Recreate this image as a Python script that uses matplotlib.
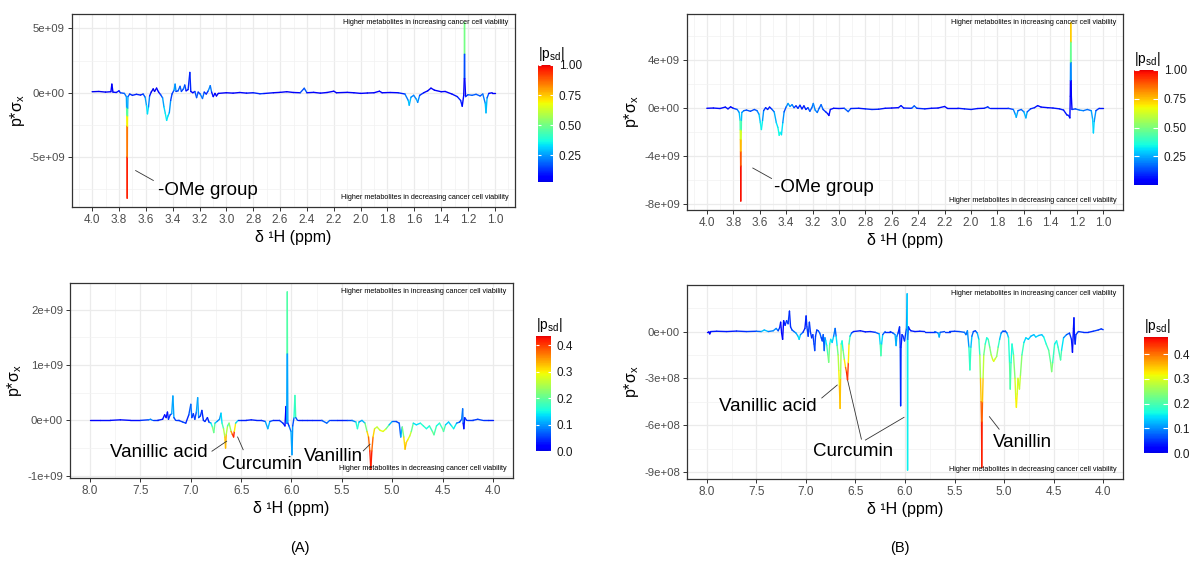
import numpy as np
import matplotlib
matplotlib.use("Agg")
import matplotlib.pyplot as plt
from matplotlib.collections import LineCollection
from matplotlib.colors import Normalize, ListedColormap
from matplotlib.ticker import MultipleLocator, FuncFormatter

plt.rcParams["font.family"] = ["Liberation Sans", "DejaVu Sans"]
plt.rcParams["mathtext.default"] = "regular"

# ---- (A) top: 1.0-4.0 ppm, values in 1e9 ----
tl_ppm = [4.00, 3.95, 3.90, 3.86, 3.853, 3.845, 3.82, 3.80, 3.79, 3.76,
          3.745, 3.743, 3.742, 3.741, 3.740, 3.739, 3.738, 3.737, 3.736, 3.735,
          3.733, 3.72, 3.70, 3.67, 3.64, 3.62, 3.605, 3.595, 3.588, 3.580,
          3.572, 3.56, 3.545, 3.535, 3.52, 3.505, 3.49, 3.475, 3.465, 3.455,
          3.445, 3.435, 3.425, 3.415, 3.405, 3.39, 3.382, 3.375, 3.36, 3.345,
          3.335, 3.32, 3.31, 3.30, 3.285, 3.272, 3.265, 3.25, 3.235, 3.222,
          3.21, 3.195, 3.178, 3.165, 3.15, 3.135, 3.12, 3.11, 3.098, 3.085,
          3.074, 3.06, 3.00, 2.95, 2.90, 2.85, 2.80, 2.75, 2.72, 2.65,
          2.60, 2.55, 2.50, 2.45, 2.42, 2.40, 2.35, 2.30, 2.25, 2.20,
          2.18, 2.10, 2.05, 2.00, 1.95, 1.90, 1.86, 1.84, 1.78, 1.72,
          1.67, 1.645, 1.638, 1.625, 1.605, 1.585, 1.575, 1.56, 1.53, 1.50,
          1.476, 1.45, 1.40, 1.37, 1.32, 1.28, 1.255, 1.243, 1.232, 1.228,
          1.227, 1.226, 1.225, 1.224, 1.218, 1.20, 1.17, 1.14, 1.11, 1.09,
          1.072, 1.066, 1.058, 1.045, 1.02, 1.00]
tl_val = [0.08, 0.10, 0.05, 0.08, 0.67, 0.05, 0.02, 0.15, 0.00, -0.05,
          -0.30, -1.20, -1.80, -2.60, -5.00, -8.20, -5.00, -2.60, -1.80, -1.20,
          -0.30, -0.10, -0.20, -0.12, -0.18, -0.10, -0.35, -1.00, -1.64, -1.10,
          -0.25, 0.05, 0.30, 0.10, 0.36, 0.05, -0.15, -0.40, -1.10, -1.60,
          -2.15, -1.80, -1.55, -0.60, -0.10, 0.20, 0.67, 0.10, 0.15, 0.50,
          0.10, 0.30, 0.60, 0.15, 0.25, 1.58, 0.10, 0.00, 0.10, -0.38,
          0.05, -0.10, -0.45, 0.05, -0.10, 0.15, 0.55, 0.05, -0.30, -0.05,
          -0.25, -0.05, 0.00, -0.03, 0.02, -0.03, 0.00, -0.08, -0.06, 0.00,
          0.03, 0.08, 0.02, 0.00, 0.35, 0.00, 0.03, -0.03, 0.02, 0.12,
          0.00, 0.03, 0.00, -0.05, -0.02, 0.00, 0.12, 0.00, 0.02, 0.00,
          -0.10, -0.60, -0.97, -0.35, -0.20, -0.50, -0.75, -0.20, 0.00, 0.15,
          0.36, 0.20, 0.08, 0.10, -0.10, -0.30, -0.60, -1.05, -0.20, 1.10,
          3.00, 5.44, 3.00, 1.10, -0.30, -0.15, -0.20, -0.12, -0.25, -0.10,
          -0.80, -1.56, -0.40, -0.05, 0.00, 0.00]
tl_psd = [0.05, 0.04, 0.05, 0.05, 0.05, 0.06, 0.10, 0.08, 0.12, 0.20,
          0.22, 0.32, 0.60, 0.78, 0.92, 1.00, 0.92, 0.78, 0.60, 0.32,
          0.22, 0.15, 0.10, 0.12, 0.10, 0.12, 0.22, 0.30, 0.36, 0.30,
          0.15, 0.05, 0.03, 0.05, 0.04, 0.08, 0.12, 0.22, 0.30, 0.34,
          0.36, 0.32, 0.30, 0.20, 0.10, 0.20, 0.32, 0.15, 0.12, 0.25,
          0.12, 0.18, 0.22, 0.08, 0.06, 0.18, 0.05, 0.06, 0.08, 0.25,
          0.10, 0.15, 0.28, 0.12, 0.10, 0.15, 0.30, 0.12, 0.08, 0.06,
          0.04, 0.05, 0.06, 0.08, 0.06, 0.10, 0.08, 0.15, 0.12, 0.06,
          0.05, 0.05, 0.06, 0.08, 0.25, 0.10, 0.06, 0.08, 0.06, 0.05,
          0.06, 0.05, 0.07, 0.08, 0.06, 0.05, 0.07, 0.06, 0.08, 0.07,
          0.15, 0.28, 0.32, 0.25, 0.20, 0.26, 0.30, 0.15, 0.10, 0.06,
          0.05, 0.06, 0.05, 0.06, 0.08, 0.10, 0.12, 0.10, 0.06, 0.03,
          0.30, 0.70, 0.30, 0.03, 0.10, 0.15, 0.22, 0.15, 0.20, 0.15,
          0.28, 0.32, 0.25, 0.10, 0.06, 0.05]

# ---- (B) top: 1.0-4.0 ppm, values in 1e9 ----
tr_ppm = [4.00, 3.95, 3.90, 3.86, 3.84, 3.82, 3.80, 3.77, 3.755, 3.748,
          3.747, 3.746, 3.745, 3.744, 3.743, 3.742, 3.741, 3.740, 3.739, 3.738,
          3.735, 3.72, 3.70, 3.67, 3.64, 3.62, 3.605, 3.595, 3.587, 3.578,
          3.57, 3.555, 3.54, 3.525, 3.51, 3.49, 3.474, 3.462, 3.452, 3.445,
          3.435, 3.425, 3.415, 3.40, 3.385, 3.37, 3.355, 3.34, 3.325, 3.31,
          3.295, 3.28, 3.265, 3.25, 3.235, 3.22, 3.205, 3.194, 3.18, 3.164,
          3.15, 3.135, 3.12, 3.10, 3.085, 3.076, 3.065, 3.04, 3.00, 2.96,
          2.93, 2.91, 2.85, 2.80, 2.75, 2.70, 2.65, 2.60, 2.55, 2.53,
          2.51, 2.45, 2.43, 2.41, 2.35, 2.30, 2.25, 2.20, 2.18, 2.10,
          2.05, 2.00, 1.95, 1.90, 1.874, 1.86, 1.80, 1.72, 1.68, 1.665,
          1.658, 1.645, 1.62, 1.60, 1.585, 1.575, 1.55, 1.52, 1.496, 1.47,
          1.42, 1.38, 1.33, 1.30, 1.275, 1.262, 1.252, 1.249, 1.248, 1.247,
          1.246, 1.245, 1.244, 1.243, 1.242, 1.241, 1.236, 1.21, 1.18, 1.15,
          1.12, 1.09, 1.08, 1.074, 1.068, 1.055, 1.03, 1.00]
tr_val = [0.00, 0.02, -0.02, 0.10, -0.05, 0.12, 0.00, -0.10, -0.35, -1.00,
          -1.80, -2.60, -3.60, -4.80, -7.72, -4.80, -3.60, -2.60, -1.80, -1.00,
          -0.35, -0.20, -0.15, -0.25, -0.10, -0.20, -0.50, -1.20, -1.77, -1.00,
          -0.20, 0.05, -0.10, 0.10, -0.05, -0.30, -1.20, -1.60, -2.25, -2.00,
          -2.20, -1.20, -0.30, 0.10, 0.40, 0.15, 0.30, 0.05, 0.20, 0.00,
          0.25, -0.05, 0.20, -0.10, 0.05, -0.25, 0.05, 0.40, -0.15, -0.35,
          0.00, 0.30, -0.10, -0.30, -0.45, -0.60, -0.10, 0.00, -0.02, 0.00,
          -0.28, -0.02, 0.00, -0.05, -0.10, -0.08, 0.00, 0.02, 0.05, 0.22,
          0.02, 0.00, 0.20, 0.00, -0.05, 0.00, 0.02, 0.15, 0.00, 0.00,
          -0.05, -0.10, -0.02, 0.00, 0.12, 0.00, 0.00, 0.00, -0.10, -0.50,
          -0.75, -0.20, -0.10, -0.30, -0.80, -0.30, -0.05, 0.05, 0.22, 0.10,
          0.05, 0.02, -0.05, -0.15, -0.55, -0.60, -0.80, 1.00, 2.30, 3.80,
          5.50, 7.10, 5.50, 3.80, 2.30, 1.00, -0.10, -0.05, -0.15, -0.20,
          -0.10, -0.20, -0.90, -2.05, -1.10, -0.20, 0.00, 0.00]
tr_psd = [0.04, 0.05, 0.06, 0.05, 0.08, 0.04, 0.06, 0.15, 0.25, 0.30,
          0.55, 0.70, 0.82, 0.95, 1.00, 0.95, 0.82, 0.70, 0.55, 0.30,
          0.25, 0.18, 0.12, 0.15, 0.12, 0.15, 0.25, 0.32, 0.36, 0.30,
          0.15, 0.08, 0.10, 0.05, 0.10, 0.20, 0.30, 0.32, 0.36, 0.34,
          0.35, 0.28, 0.15, 0.12, 0.28, 0.20, 0.25, 0.12, 0.10, 0.08,
          0.12, 0.06, 0.08, 0.10, 0.08, 0.20, 0.12, 0.25, 0.15, 0.25,
          0.10, 0.22, 0.12, 0.10, 0.06, 0.05, 0.06, 0.05, 0.06, 0.08,
          0.22, 0.10, 0.06, 0.08, 0.10, 0.08, 0.06, 0.05, 0.05, 0.08,
          0.06, 0.08, 0.22, 0.10, 0.08, 0.06, 0.05, 0.06, 0.05, 0.06,
          0.08, 0.08, 0.06, 0.05, 0.15, 0.08, 0.06, 0.08, 0.15, 0.26,
          0.30, 0.18, 0.12, 0.22, 0.30, 0.20, 0.10, 0.08, 0.05, 0.06,
          0.05, 0.06, 0.08, 0.08, 0.06, 0.08, 0.10, 0.00, 0.10, 0.32,
          0.62, 0.85, 0.62, 0.32, 0.10, 0.00, 0.10, 0.12, 0.20, 0.22,
          0.15, 0.20, 0.28, 0.32, 0.28, 0.15, 0.08, 0.06]

# ---- (A) bottom: 4.0-8.0 ppm, values in 1e9 ----
bl_ppm = [8.00, 7.90, 7.80, 7.70, 7.60, 7.50, 7.42, 7.40, 7.38, 7.33,
          7.28, 7.26, 7.245, 7.232, 7.222, 7.205, 7.19, 7.178, 7.168, 7.15,
          7.12, 7.08, 7.05, 7.02, 7.00, 6.99, 6.975, 6.96, 6.945, 6.932,
          6.922, 6.905, 6.89, 6.875, 6.86, 6.835, 6.82, 6.80, 6.785, 6.772,
          6.76, 6.74, 6.715, 6.70, 6.69, 6.675, 6.662, 6.655, 6.648, 6.635,
          6.62, 6.60, 6.588, 6.575, 6.568, 6.555, 6.53, 6.50, 6.45, 6.40,
          6.35, 6.30, 6.26, 6.235, 6.215, 6.18, 6.12, 6.085, 6.065, 6.055,
          6.048, 6.044, 6.042, 6.040, 6.036, 6.025, 6.005, 5.995, 5.988, 5.975,
          5.966, 5.958, 5.94, 5.90, 5.85, 5.80, 5.70, 5.65, 5.62, 5.55,
          5.50, 5.45, 5.40, 5.36, 5.345, 5.33, 5.30, 5.27, 5.25, 5.235,
          5.222, 5.212, 5.202, 5.19, 5.175, 5.15, 5.12, 5.09, 5.06, 5.03,
          5.00, 4.96, 4.93, 4.915, 4.90, 4.885, 4.872, 4.86, 4.845, 4.825,
          4.81, 4.79, 4.76, 4.72, 4.69, 4.66, 4.63, 4.60, 4.585, 4.56,
          4.53, 4.50, 4.49, 4.47, 4.44, 4.41, 4.39, 4.36, 4.33, 4.31,
          4.30, 4.295, 4.288, 4.28, 4.26, 4.20, 4.15, 4.10, 4.05, 4.00]
bl_val = [0.00, 0.00, 0.00, 0.01, 0.00, 0.00, 0.01, 0.02, 0.00, 0.00,
          0.02, 0.10, 0.05, 0.15, 0.02, 0.10, 0.12, 0.44, 0.05, 0.00,
          0.00, -0.03, -0.05, 0.10, 0.29, 0.05, 0.12, 0.02, 0.15, 0.41,
          0.05, 0.08, 0.18, 0.00, -0.02, 0.05, -0.03, -0.05, -0.12, -0.22,
          -0.05, -0.02, 0.02, 0.13, -0.05, -0.15, -0.30, -0.50, -0.25, -0.10,
          -0.05, -0.20, -0.25, -0.30, -0.20, -0.05, 0.00, 0.00, 0.00, 0.01,
          0.00, 0.00, -0.02, -0.15, -0.02, 0.00, 0.00, -0.05, -0.10, 0.25,
          -0.05, 1.20, 2.32, 1.20, -0.05, -0.10, -0.20, -0.62, -0.10, 0.05,
          0.45, 0.05, 0.00, 0.00, 0.00, 0.00, 0.00, -0.05, 0.00, 0.00,
          0.00, 0.00, 0.00, -0.03, -0.15, -0.03, 0.00, -0.05, -0.20, -0.30,
          -0.55, -0.88, -0.55, -0.30, -0.15, -0.12, -0.18, -0.20, -0.15, -0.08,
          -0.02, -0.02, -0.05, -0.30, -0.12, -0.30, -0.52, -0.40, -0.35, -0.28,
          -0.20, -0.05, -0.08, -0.05, -0.10, -0.15, -0.10, -0.20, -0.26, -0.10,
          -0.05, -0.15, -0.20, -0.08, -0.03, -0.10, -0.15, -0.05, -0.03, 0.02,
          0.21, -0.05, -0.15, 0.05, 0.00, 0.00, 0.02, 0.00, 0.00, 0.00]
bl_psd = [0.00, 0.03, 0.02, 0.03, 0.02, 0.03, 0.06, 0.12, 0.05, 0.04,
          0.03, 0.02, 0.03, 0.02, 0.04, 0.05, 0.06, 0.15, 0.06, 0.05,
          0.04, 0.06, 0.05, 0.03, 0.10, 0.05, 0.04, 0.05, 0.06, 0.15,
          0.06, 0.04, 0.05, 0.03, 0.06, 0.02, 0.05, 0.10, 0.20, 0.25,
          0.15, 0.10, 0.08, 0.12, 0.15, 0.22, 0.28, 0.36, 0.30, 0.20,
          0.15, 0.33, 0.36, 0.435, 0.40, 0.20, 0.06, 0.03, 0.04, 0.03,
          0.04, 0.03, 0.06, 0.15, 0.08, 0.04, 0.03, 0.06, 0.02, 0.01,
          0.03, 0.18, 0.20, 0.18, 0.03, 0.05, 0.10, 0.12, 0.08, 0.04,
          0.28, 0.08, 0.04, 0.03, 0.04, 0.03, 0.04, 0.10, 0.05, 0.04,
          0.03, 0.05, 0.06, 0.12, 0.20, 0.12, 0.08, 0.15, 0.28, 0.35,
          0.40, 0.435, 0.40, 0.35, 0.28, 0.25, 0.28, 0.30, 0.26, 0.15,
          0.08, 0.06, 0.05, 0.08, 0.15, 0.28, 0.34, 0.32, 0.30, 0.28,
          0.25, 0.15, 0.12, 0.15, 0.18, 0.15, 0.15, 0.20, 0.22, 0.15,
          0.15, 0.20, 0.22, 0.15, 0.10, 0.15, 0.18, 0.10, 0.06, 0.05,
          0.12, 0.03, 0.02, 0.04, 0.05, 0.04, 0.06, 0.05, 0.04, 0.03]

# ---- (B) bottom: 4.0-8.0 ppm, values in 1e8 ----
br_ppm = [8.00, 7.98, 7.97, 7.96, 7.90, 7.80, 7.70, 7.60, 7.50, 7.45,
          7.42, 7.38, 7.33, 7.30, 7.28, 7.265, 7.255, 7.245, 7.235, 7.225,
          7.21, 7.195, 7.18, 7.166, 7.155, 7.14, 7.12, 7.10, 7.08, 7.068,
          7.055, 7.03, 7.01, 6.998, 6.99, 6.977, 6.965, 6.955, 6.942, 6.93,
          6.918, 6.911, 6.903, 6.89, 6.875, 6.86, 6.845, 6.835, 6.825, 6.815,
          6.808, 6.80, 6.79, 6.778, 6.77, 6.76, 6.75, 6.735, 6.72, 6.705,
          6.695, 6.685, 6.675, 6.668, 6.662, 6.655, 6.650, 6.644, 6.635, 6.625,
          6.612, 6.600, 6.590, 6.580, 6.572, 6.565, 6.555, 6.54, 6.52, 6.45,
          6.40, 6.35, 6.30, 6.26, 6.25, 6.243, 6.236, 6.225, 6.20, 6.15,
          6.12, 6.10, 6.09, 6.082, 6.07, 6.055, 6.048, 6.044, 6.040, 6.03,
          6.02, 6.005, 5.985, 5.978, 5.976, 5.974, 5.972, 5.965, 5.955, 5.94,
          5.90, 5.85, 5.80, 5.75, 5.70, 5.665, 5.655, 5.645, 5.60, 5.55,
          5.50, 5.45, 5.40, 5.385, 5.37, 5.355, 5.345, 5.335, 5.325, 5.31,
          5.29, 5.27, 5.255, 5.245, 5.238, 5.232, 5.228, 5.225, 5.222, 5.218,
          5.212, 5.205, 5.19, 5.175, 5.16, 5.145, 5.13, 5.115, 5.105, 5.09,
          5.075, 5.06, 5.045, 5.03, 5.01, 4.99, 4.97, 4.955, 4.945, 4.938,
          4.93, 4.92, 4.905, 4.89, 4.882, 4.876, 4.868, 4.86, 4.852, 4.845,
          4.835, 4.82, 4.80, 4.78, 4.755, 4.73, 4.70, 4.68, 4.65, 4.62,
          4.60, 4.575, 4.55, 4.53, 4.52, 4.51, 4.49, 4.47, 4.455, 4.44,
          4.43, 4.42, 4.40, 4.37, 4.34, 4.32, 4.31, 4.30, 4.295, 4.29,
          4.283, 4.275, 4.25, 4.20, 4.15, 4.10, 4.05, 4.02, 4.00]
br_val = [0.00, 0.00, -0.15, 0.00, 0.02, 0.00, 0.03, 0.00, 0.02, 0.00,
          0.10, 0.00, 0.05, 0.20, 0.05, 0.25, 0.60, -0.10, -0.50, 0.70,
          0.40, 0.70, 0.50, 1.31, 0.30, 0.10, 0.00, -0.10, -0.30, -0.50,
          -0.20, -0.05, 0.20, 1.00, 0.30, -0.30, 0.60, 0.00, -0.40, -0.20,
          -0.80, -1.22, -0.30, 0.10, 0.05, -0.10, -0.40, -0.60, -0.20, -1.22,
          -0.40, -0.60, -0.90, -1.50, -1.97, -0.80, -0.50, -0.70, -0.30, 0.20,
          -0.30, -0.90, -1.50, -2.50, -3.50, -4.93, -3.00, -0.80, -0.60, -1.20,
          -1.80, -2.30, -2.60, -3.10, -2.00, -0.80, -0.30, -0.10, 0.00, 0.05,
          -0.02, 0.00, -0.05, -0.15, -0.80, -1.55, -0.80, -0.20, 0.00, 0.00,
          -0.10, -0.20, -0.90, -0.30, -0.10, 0.30, -1.00, -4.76, -1.00, -0.20,
          -0.30, -0.60, 0.20, 2.42, -0.50, -8.89, -0.50, 0.30, 0.15, 0.05,
          0.00, 0.02, 0.00, 0.00, 0.00, -0.10, -0.35, -0.05, 0.00, 0.00,
          0.02, 0.00, -0.05, -0.20, 0.05, -1.00, -2.46, -1.00, -0.30, 0.00,
          0.05, -0.10, -0.50, -1.50, -3.00, -4.50, -5.80, -8.72, -5.80, -4.50,
          -3.00, -1.50, -0.80, -0.40, -0.50, -1.00, -1.50, -1.80, -1.91, -1.75,
          -1.60, -1.00, -0.50, -0.10, 0.05, 0.05, -0.10, -0.40, -2.00, -3.69,
          -2.00, -0.80, -1.50, -3.00, -4.30, -4.86, -4.00, -3.00, -3.40, -3.69,
          -2.80, -1.50, -0.70, -0.40, -0.50, -0.30, -0.20, -0.35, -0.25, -0.20,
          -0.35, -0.80, -1.20, -2.00, -2.57, -2.00, -0.80, -0.60, -1.00, -1.50,
          -1.82, -1.20, -0.40, -0.20, -0.10, -0.50, -1.33, 0.20, 0.88, -0.30,
          -0.80, -0.20, 0.00, -0.05, -0.05, 0.02, 0.10, 0.17, 0.12]
br_psd = [0.03, 0.02, 0.01, 0.03, 0.04, 0.03, 0.04, 0.05, 0.06, 0.10,
          0.15, 0.10, 0.08, 0.12, 0.06, 0.05, 0.03, 0.02, 0.00, 0.03,
          0.04, 0.05, 0.06, 0.05, 0.04, 0.06, 0.08, 0.10, 0.14, 0.16,
          0.12, 0.06, 0.03, 0.04, 0.05, 0.06, 0.05, 0.06, 0.04, 0.05,
          0.06, 0.06, 0.06, 0.05, 0.06, 0.08, 0.06, 0.05, 0.08, 0.06,
          0.10, 0.12, 0.18, 0.22, 0.26, 0.20, 0.15, 0.15, 0.12, 0.06,
          0.10, 0.20, 0.25, 0.30, 0.34, 0.37, 0.33, 0.20, 0.15, 0.18,
          0.28, 0.38, 0.42, 0.47, 0.40, 0.25, 0.15, 0.08, 0.04, 0.03,
          0.04, 0.03, 0.05, 0.10, 0.18, 0.22, 0.18, 0.10, 0.05, 0.04,
          0.06, 0.10, 0.14, 0.10, 0.06, 0.03, 0.06, 0.05, 0.04, 0.03,
          0.05, 0.06, 0.04, 0.16, 0.12, 0.19, 0.12, 0.05, 0.04, 0.03,
          0.04, 0.03, 0.05, 0.04, 0.05, 0.10, 0.15, 0.08, 0.05, 0.06,
          0.05, 0.06, 0.08, 0.10, 0.06, 0.15, 0.21, 0.16, 0.10, 0.06,
          0.05, 0.10, 0.15, 0.22, 0.31, 0.39, 0.43, 0.47, 0.43, 0.39,
          0.31, 0.25, 0.20, 0.15, 0.18, 0.22, 0.26, 0.30, 0.31, 0.29,
          0.27, 0.22, 0.15, 0.10, 0.06, 0.05, 0.10, 0.15, 0.20, 0.22,
          0.18, 0.15, 0.20, 0.28, 0.31, 0.33, 0.31, 0.29, 0.30, 0.30,
          0.27, 0.22, 0.16, 0.13, 0.15, 0.12, 0.12, 0.15, 0.13, 0.12,
          0.15, 0.18, 0.20, 0.23, 0.25, 0.22, 0.16, 0.15, 0.18, 0.20,
          0.22, 0.18, 0.12, 0.08, 0.06, 0.04, 0.03, 0.02, 0.03, 0.04,
          0.04, 0.05, 0.06, 0.05, 0.04, 0.05, 0.06, 0.05, 0.05]

top_text = "Higher metabolites in increasing cancer cell viability"
bottom_text = "Higher metabolites in decreasing cancer cell viability"

# rainbow running blue -> red (jet without the navy / maroon ends)
rainbow = ListedColormap(plt.get_cmap("jet")(np.linspace(0.09, 0.91, 256)))

W, H = 1198, 572
fig = plt.figure(figsize=(W / 100, H / 100), dpi=100)


def box(l, t, r, b):
    return [l / W, 1 - b / H, (r - l) / W, (b - t) / H]


def sci(v, pos):
    if abs(v) < 1:
        return "0e+00"
    return format(v, ".0e")


def panel(rect, crect, ppm, val, unit, psd, xmaj, ymaj, cticks, cfmt):
    ax = fig.add_axes(box(*rect))
    x = np.array(ppm)
    y = np.array(val) * unit
    c = np.array(psd)
    pts = np.column_stack([x, y]).reshape(-1, 1, 2)
    segs = np.concatenate([pts[:-1], pts[1:]], axis=1)
    lc = LineCollection(segs, cmap=rainbow, norm=Normalize(c.min(), c.max()),
                        linewidths=1.0, capstyle="round")
    lc.set_array((c[:-1] + c[1:]) / 2)
    ax.add_collection(lc)

    xpad = 0.05 * (x.max() - x.min())
    ypad = 0.05 * (y.max() - y.min())
    ax.set_xlim(x.max() + xpad, x.min() - xpad)
    ax.set_ylim(y.min() - ypad, y.max() + ypad)

    ax.xaxis.set_major_locator(MultipleLocator(xmaj))
    ax.xaxis.set_minor_locator(MultipleLocator(xmaj / 2))
    ax.yaxis.set_major_locator(MultipleLocator(ymaj))
    ax.yaxis.set_minor_locator(MultipleLocator(ymaj / 2))
    ax.xaxis.set_major_formatter(FuncFormatter(lambda v, p: "%.1f" % v))
    ax.yaxis.set_major_formatter(FuncFormatter(sci))
    ax.set_axisbelow(True)
    ax.grid(True, which="major", color="#EBEBEB", lw=0.9)
    ax.grid(True, which="minor", color="#F2F2F2", lw=0.5)
    ax.tick_params(which="major", length=3, width=0.7, color="#333333",
                   labelcolor="#4D4D4D", labelsize=8.5, pad=2)
    ax.tick_params(axis="y", labelsize=8.2)
    ax.tick_params(which="minor", length=0)
    for s in ax.spines.values():
        s.set_color("#333333")
        s.set_linewidth(0.9)
    ax.set_xlabel("δ ¹H (ppm)", fontsize=11.5, labelpad=3)
    ax.set_ylabel("p*σ$_{x}$", fontsize=11.5, labelpad=2)
    ax.text(0.985, 0.955, top_text, transform=ax.transAxes, ha="right",
            va="center", fontsize=5.2)
    ax.text(0.985, 0.047, bottom_text, transform=ax.transAxes, ha="right",
            va="center", fontsize=5.2)

    cax = fig.add_axes(box(*crect))
    cb = fig.colorbar(lc, cax=cax, ticks=cticks)
    cb.outline.set_visible(False)
    cb.minorticks_off()
    cax.set_yticklabels([cfmt % t for t in cticks])
    cw = crect[2] - crect[0]
    cax.tick_params(left=True, right=True, labelleft=False, labelright=True,
                    direction="in", length=cw / 5 * 0.72, width=0.8,
                    color="white", labelsize=8.5, labelcolor="#1A1A1A", pad=4)
    cax.set_title("|p$_{sd}$|", loc="left", fontsize=10, pad=5)
    return ax


def note(ax, label, tx, ty, lines):
    ax.text(tx, ty, label, ha="left", va="center", fontsize=13.5)
    for (x1, y1), (x2, y2) in lines:
        ax.plot([x1, x2], [y1, y2], color="#333333", lw=0.6)


ax = panel((72, 14, 515, 207), (538, 65, 553, 182), tl_ppm, tl_val, 1e9, tl_psd,
           0.2, 5e9, [0.25, 0.5, 0.75, 1.0], "%.2f")
note(ax, "-OMe group", 3.51, -7.6e9, [((3.676, -6.05e9), (3.544, -6.82e9))])

ax = panel((687, 14, 1123, 210), (1134, 70, 1158, 185), tr_ppm, tr_val, 1e9, tr_psd,
           0.2, 4e9, [0.25, 0.5, 0.75, 1.0], "%.2f")
note(ax, "-OMe group", 3.49, -6.6e9, [((3.652, -4.97e9), (3.51, -5.84e9))])

ax = panel((70, 283, 513, 478), (536, 336, 551, 451), bl_ppm, bl_val, 1e9, bl_psd,
           0.5, 1e9, [0.0, 0.1, 0.2, 0.3, 0.4], "%.1f")
note(ax, "Vanillic acid", 7.80, -0.58e9, [((6.79, -0.556e9), (6.644, -0.376e9))])
note(ax, "Curcumin", 6.69, -0.80e9, [((6.535, -0.30e9), (6.48, -0.53e9))])
note(ax, "Vanillin", 5.88, -0.66e9, [((5.287, -0.55e9), (5.22, -0.43e9))])

ax = panel((687, 285, 1123, 479), (1144, 337, 1168, 453), br_ppm, br_val, 1e8, br_psd,
           0.5, 3e8, [0.0, 0.1, 0.2, 0.3, 0.4], "%.1f")
note(ax, "Vanillic acid", 7.88, -4.82e8, [((6.84, -4.26e8), (6.684, -3.43e8))])
note(ax, "Curcumin", 6.93, -7.71e8, [((6.578, -3.15e8), (6.44, -6.9e8)),
                                     ((6.40, -6.96e8), (6.01, -5.5e8))])
note(ax, "Vanillin", 5.11, -7.11e8, [((5.148, -5.46e8), (5.05, -6.26e8))])

fig.text(300 / W, 1 - 548 / H, "(A)", ha="center", va="center", fontsize=10.5)
fig.text(900 / W, 1 - 548 / H, "(B)", ha="center", va="center", fontsize=10.5)

fig.savefig("out.png", dpi=100)
